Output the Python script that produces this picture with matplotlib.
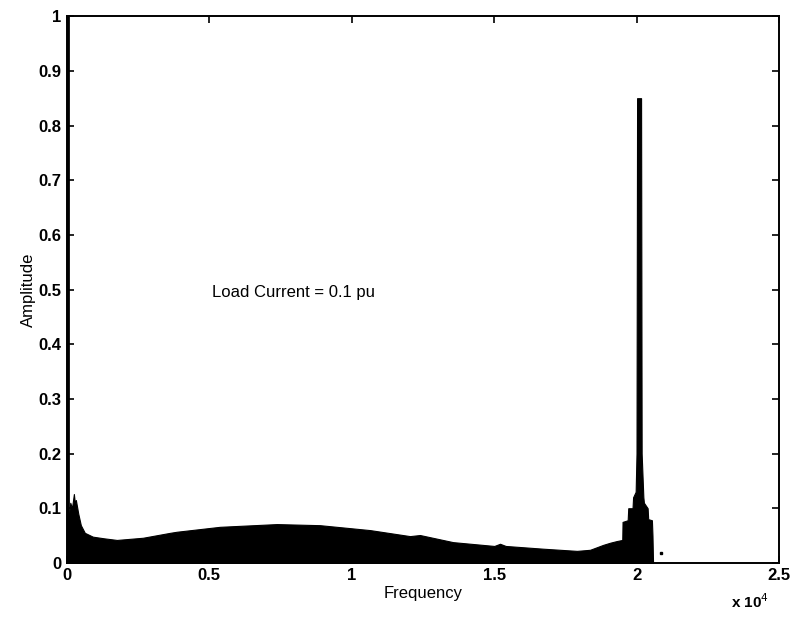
import matplotlib
matplotlib.use("Agg")
import matplotlib.pyplot as plt
from matplotlib.ticker import FuncFormatter
import numpy as np

# upper envelope of the spectrum (Hz, amplitude)
freq = [0, 20, 60, 120, 180, 246, 280, 316, 400, 490, 630, 910, 1300, 1755,
        2670, 3620, 3860, 5370, 7370, 8880, 10640, 12040, 12390, 13550,
        15000, 15200, 15400, 16710, 17900, 18360, 18820, 19070, 19300,
        19490, 19500, 19680, 19700, 19850, 19870, 19960, 19990, 20010,
        20150, 20170, 20230, 20250, 20380, 20400, 20530, 20550, 20570]
amp = [0.09, 0.10, 0.08, 0.11, 0.10, 0.126, 0.11, 0.115, 0.09, 0.069,
       0.055, 0.048, 0.045, 0.042, 0.046, 0.055, 0.057, 0.066, 0.071,
       0.069, 0.060, 0.049, 0.051, 0.038, 0.031, 0.035, 0.031, 0.026,
       0.022, 0.024, 0.033, 0.037, 0.040, 0.042, 0.075, 0.078, 0.10,
       0.10, 0.12, 0.13, 0.20, 0.85, 0.85, 0.20, 0.12, 0.11, 0.10,
       0.08, 0.078, 0.05, 0.0]

dc_freq = [0, 30]
dc_amp = [1.0, 1.0]

stray_freq = [20860]
stray_amp = [0.018]

label_text = "Load Current = 0.1 pu"

plt.rcParams['font.family'] = ['Liberation Sans', 'DejaVu Sans']

fig = plt.figure(figsize=(7.96, 6.22), dpi=100)
ax = fig.add_axes([0.084, 0.095, 0.895, 0.879])

ax.fill_between(freq, amp, 0, color='black', linewidth=0.8, edgecolor='black')
ax.vlines(dc_freq, 0, dc_amp, color='black', linewidth=2.0)
ax.plot(stray_freq, stray_amp, 's', color='black', markersize=2)

ax.set_xlim(0, 25000)
ax.set_ylim(0, 1)
ax.set_xticks(np.arange(0, 25001, 5000))
ax.set_yticks(np.arange(0, 1.01, 0.1))
ax.xaxis.set_major_formatter(FuncFormatter(lambda v, p: "%g" % (v / 1e4)))
ax.yaxis.set_major_formatter(FuncFormatter(lambda v, p: "%g" % round(v, 1)))
ax.tick_params(direction='in', top=True, right=True, length=5, width=1.2,
               labelsize=12, pad=4)
for lab in ax.get_xticklabels() + ax.get_yticklabels():
    lab.set_fontweight('bold')
for s in ax.spines.values():
    s.set_linewidth(1.4)

ax.set_xlabel("Frequency", fontsize=12, labelpad=2)
ax.set_ylabel("Amplitude", fontsize=12, labelpad=2)
ax.text(5090, 0.495, label_text, fontsize=12, va='center', ha='left')
fig.text(0.918, 0.022, r"x 10$^{4}$", fontsize=11, fontweight='bold')

fig.savefig("out.png", dpi=100)
